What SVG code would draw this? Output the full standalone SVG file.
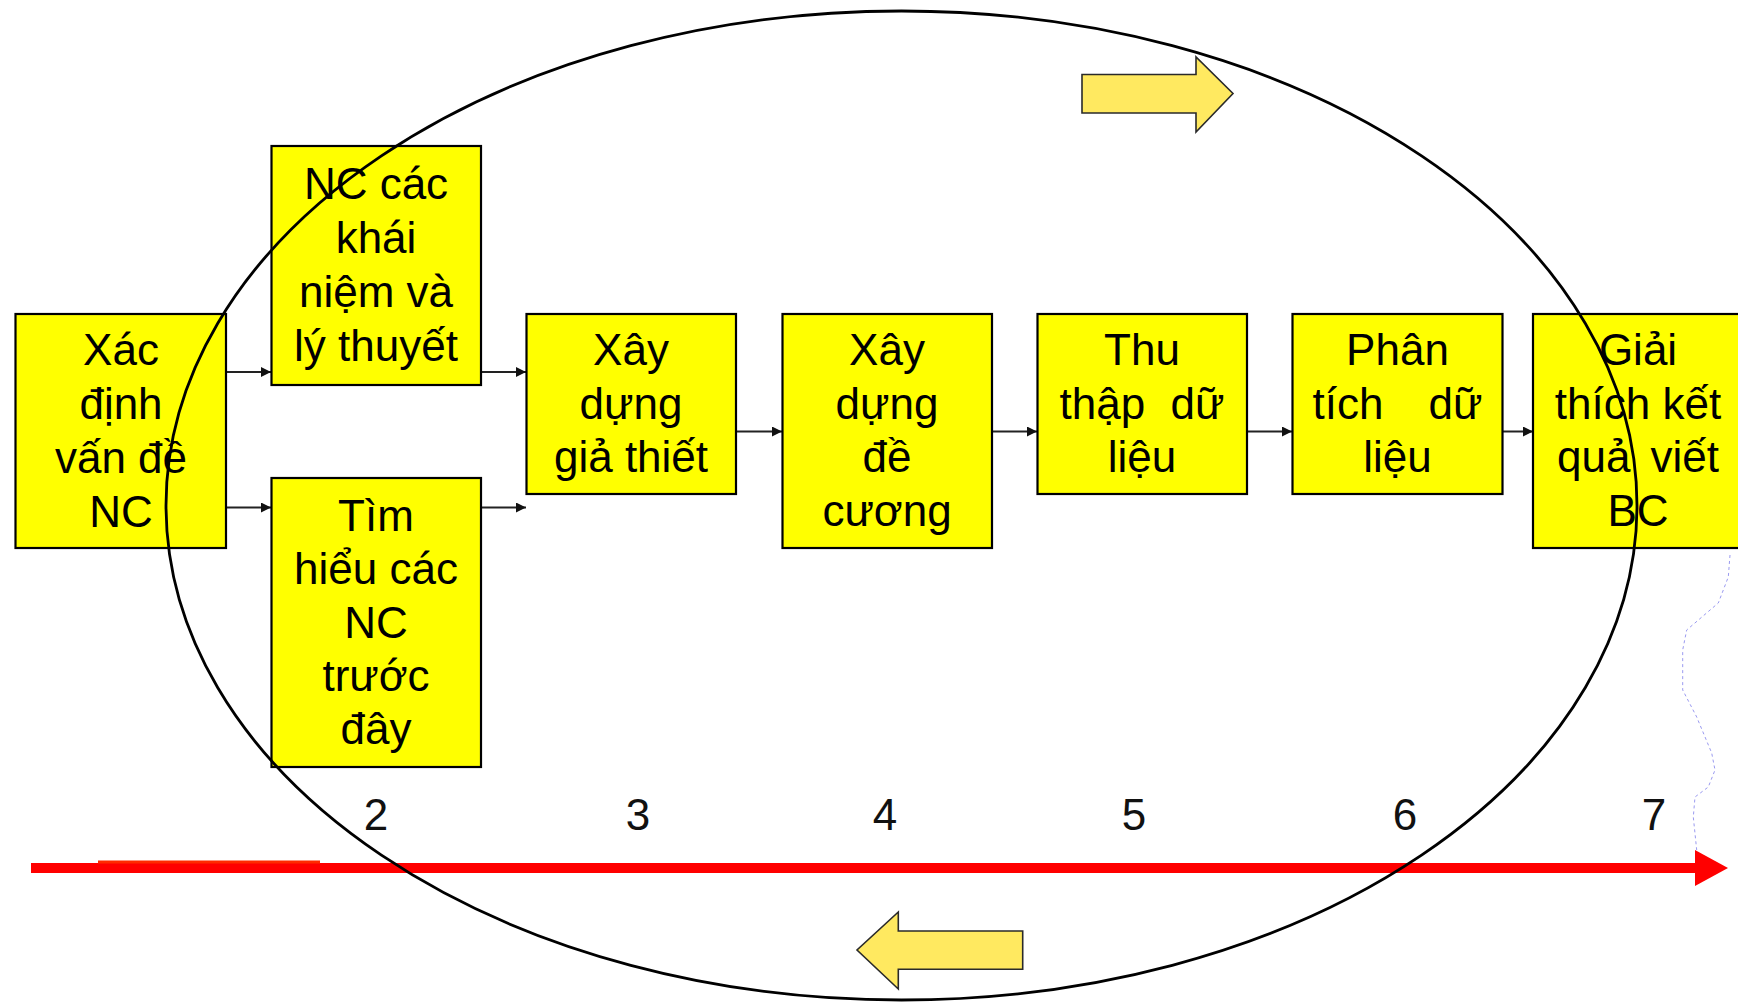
<svg xmlns="http://www.w3.org/2000/svg" width="1738" height="1002" viewBox="0 0 1738 1002">
<style>
.box{fill:#FFFF00;stroke:#000;stroke-width:2.2}
.t{font-family:"Liberation Sans",Arial,sans-serif;font-size:44px;fill:#000;text-anchor:middle}
.num{font-family:"Liberation Sans",Arial,sans-serif;font-size:44px;fill:#111;text-anchor:middle}
.conn{stroke:#222;stroke-width:2;fill:none;marker-end:url(#ah)}
.blk{fill:#FFE960;stroke:#2a2a2a;stroke-width:1.6;stroke-linejoin:miter}
</style>
<defs>
<marker id="ah" viewBox="0 0 10 10" refX="10" refY="5" markerWidth="11" markerHeight="10" markerUnits="userSpaceOnUse" orient="auto">
<path d="M0,0 L10,5 L0,10 Z" fill="#111"/>
</marker>
</defs>
<rect width="1738" height="1002" fill="#fff"/>

<g id="timeline">
<rect x="31" y="863" width="1666" height="10" fill="#FF0000"/>
<rect x="98" y="860.5" width="222" height="3" fill="#FF2A00"/>
<polygon points="1695,850 1728,868 1695,886" fill="#FF0000"/>
<polyline points="1730,555 1728.3,577 1718.3,603 1686.7,630 1682.7,650 1682.7,690 1696.7,717 1711.7,753 1715,770 1708.3,787 1695,797 1693.3,817 1696.7,850" fill="none" stroke="#9A9AF0" stroke-width="1" stroke-dasharray="3 3"/>
</g>

<g id="numbers">
<text class="num" x="376" y="830">2</text>
<text class="num" x="638" y="830">3</text>
<text class="num" x="885" y="830">4</text>
<text class="num" x="1134" y="830">5</text>
<text class="num" x="1405" y="830">6</text>
<text class="num" x="1654" y="830">7</text>
</g>

<g id="connectors">
<line class="conn" x1="226" y1="372" x2="271" y2="372"/>
<line class="conn" x1="226" y1="507.5" x2="271" y2="507.5"/>
<line class="conn" x1="481" y1="372" x2="526" y2="372"/>
<line class="conn" x1="481" y1="507.5" x2="526" y2="507.5"/>
<line class="conn" x1="736" y1="431.5" x2="782" y2="431.5"/>
<line class="conn" x1="992" y1="431.5" x2="1037" y2="431.5"/>
<line class="conn" x1="1247" y1="431.5" x2="1292" y2="431.5"/>
<line class="conn" x1="1503" y1="431.5" x2="1533" y2="431.5"/>
</g>

<g id="n1">
<rect class="box" x="15.5" y="314" width="210.5" height="234"/>
<text class="t" x="121" y="365">Xác</text>
<text class="t" x="121" y="419">định</text>
<text class="t" x="121" y="473">vấn đề</text>
<text class="t" x="121" y="526.5">NC</text>
</g>
<g id="n2">
<rect class="box" x="271.5" y="146" width="209.5" height="239"/>
<text class="t" x="376" y="199">NC các</text>
<text class="t" x="376" y="253">khái</text>
<text class="t" x="376" y="307">niệm và</text>
<text class="t" x="376" y="361">lý thuyết</text>
</g>
<g id="n3">
<rect class="box" x="271.5" y="478" width="209.5" height="289"/>
<text class="t" x="376" y="530.5">Tìm</text>
<text class="t" x="376" y="584">hiểu các</text>
<text class="t" x="376" y="637.5">NC</text>
<text class="t" x="376" y="691">trước</text>
<text class="t" x="376" y="744">đây</text>
</g>
<g id="n4">
<rect class="box" x="526.5" y="314" width="209.5" height="180"/>
<text class="t" x="631" y="364.5">Xây</text>
<text class="t" x="631" y="418.5">dựng</text>
<text class="t" x="631" y="472">giả thiết</text>
</g>
<g id="n5">
<rect class="box" x="782.5" y="314" width="209.5" height="234"/>
<text class="t" x="887" y="364.5">Xây</text>
<text class="t" x="887" y="418.5">dựng</text>
<text class="t" x="887" y="472">đề</text>
<text class="t" x="887" y="525.5">cương</text>
</g>
<g id="n6">
<rect class="box" x="1037.5" y="314" width="209.5" height="180"/>
<text class="t" x="1142" y="364.5">Thu</text>
<text class="t" x="1142" y="418.5" word-spacing="13">thập dữ</text>
<text class="t" x="1142" y="472">liệu</text>
</g>
<g id="n7">
<rect class="box" x="1292.5" y="314" width="210" height="180"/>
<text class="t" x="1397.5" y="364.5">Phân</text>
<text class="t" x="1397.5" y="418.5" word-spacing="33">tích dữ</text>
<text class="t" x="1397.5" y="472">liệu</text>
</g>
<g id="n8">
<rect class="box" x="1533" y="314" width="210" height="234"/>
<text class="t" x="1638" y="364.5">Giải</text>
<text class="t" x="1638" y="418.5">thích kết</text>
<text class="t" x="1638" y="472" word-spacing="8">quả viết</text>
<text class="t" x="1638" y="525.5">BC</text>
</g>

<g id="cycle">
<path class="blk" d="M1082,74.5 H1196 V57 L1233,93.5 L1196,132 V113 H1082 Z"/>
<path class="blk" d="M1022.7,931 H898.3 V912 L857,950 L898.3,989 V969.3 H1022.7 Z"/>
<ellipse cx="901.5" cy="505.5" rx="735.5" ry="494.5" fill="none" stroke="#000" stroke-width="2.8"/>
</g>
</svg>
